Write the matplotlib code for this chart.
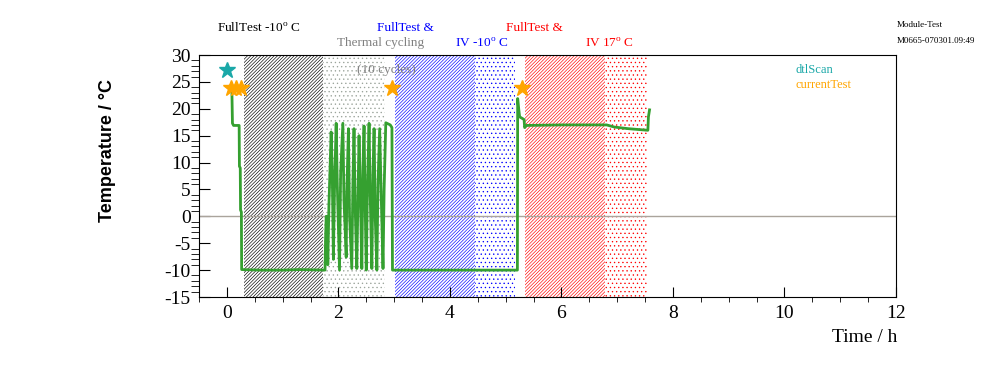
import numpy as np
import matplotlib
matplotlib.use("Agg")
import matplotlib.pyplot as plt
from matplotlib.ticker import MultipleLocator

plt.rcParams['font.family'] = ['Liberation Serif', 'DejaVu Serif']
plt.rcParams['mathtext.fontset'] = 'custom'
plt.rcParams['mathtext.rm'] = 'Liberation Serif'
plt.rcParams['axes.unicode_minus'] = False
plt.rcParams['hatch.linewidth'] = 0.45

# temperature log (hours, deg C)
time_h = [0.07, 0.09, 0.10, 0.12, 0.22, 0.225, 0.24, 0.245, 0.26, 0.265, 0.6, 1.0, 1.3, 1.76,
          1.77, 1.78, 1.80, 1.81, 1.83, 1.87, 1.89, 1.91, 1.93, 1.96, 1.98, 2.02, 2.04, 2.08,
          2.10, 2.14, 2.15, 2.18, 2.20, 2.24, 2.26, 2.28, 2.30, 2.33, 2.35, 2.37, 2.39, 2.42,
          2.44, 2.46, 2.48, 2.50, 2.52, 2.55, 2.57, 2.60, 2.62, 2.64, 2.66, 2.69, 2.71, 2.74,
          2.77, 2.80, 2.82, 2.85, 2.93, 2.96, 2.97, 3.5, 4.0, 4.5, 5.21, 5.215, 5.23, 5.25,
          5.33, 5.34, 5.37, 6.0, 6.81, 6.95, 7.2, 7.55, 7.56, 7.58]
temp_c = [23.5, 23.2, 17.3, 16.9, 16.9, 9.3, 9.0, 1.2, 0.8, -9.9, -10.0, -10.0, -9.9, -10.0,
          -4.0, 0.0, 0.0, -9.0, 2.0, 15.7, 8.0, -8.0, 5.0, 17.3, 6.0, -10.0, 8.0, 17.3,
          3.0, -7.6, 4.0, 16.3, 0.0, -9.7, 6.0, 16.3, 2.0, -9.7, 3.0, 15.0, 6.0, -9.7,
          9.0, 16.8, 2.0, -10.0, 5.0, 17.3, 4.0, -9.7, 8.0, 16.3, 0.0, -10.0, 6.0, 16.3,
          3.0, -9.7, 5.0, 17.4, 17.0, 16.5, -10.0, -10.0, -10.0, -10.0, -10.0, 21.9, 20.3, 18.5,
          18.0, 16.5, 16.9, 17.0, 17.0, 16.6, 16.3, 16.0, 18.5, 19.8]

# test markers
dtl_t = [0.0]
dtl_T = [27.3]
cur_t = [0.08, 0.17, 0.26, 2.97, 5.30]
cur_T = [23.8, 23.8, 23.8, 23.8, 23.8]

# shaded periods: start, end, colour, hatch
periods = [(0.30, 1.72, 'black', '/' * 10),
           (1.72, 2.83, '#9aa39a', '.' * 4),
           (3.01, 4.45, 'blue', '/' * 10),
           (4.45, 5.17, 'blue', '.' * 4),
           (5.35, 6.78, 'red', '/' * 10),
           (6.78, 7.53, 'red', '.' * 4)]

W, H = 996, 372
fig = plt.figure(figsize=(W / 100, H / 100), dpi=100)
ax = fig.add_axes([199 / W, 1 - 297 / H, (896 - 199) / W, (297 - 55) / H])

for a, b, c, h in periods:
    ax.axvspan(a, b, facecolor='none', edgecolor=c, hatch=h, linewidth=0)

ax.axhline(0, color='#aaa49c', lw=1)
ax.plot(time_h, temp_c, color='#35a030', lw=2)
ax.plot(dtl_t, dtl_T, '*', color='#1aa8a8', ms=12, mec='#1aa8a8')
ax.plot(cur_t, cur_T, '*', color='#ffa500', ms=12, mec='#ffa500')

ax.set_xlim(-0.5, 12)
ax.set_ylim(-15, 30)
ax.xaxis.set_major_locator(MultipleLocator(2))
ax.xaxis.set_minor_locator(MultipleLocator(0.5))
ax.yaxis.set_major_locator(MultipleLocator(5))
ax.yaxis.set_minor_locator(MultipleLocator(1))
ax.tick_params(direction='in', labelsize=14, top=False, right=False)
ax.tick_params(axis='y', which='major', length=8, pad=6)
ax.tick_params(axis='y', which='minor', length=6)
ax.tick_params(axis='x', which='major', length=7, pad=6)
ax.tick_params(axis='x', which='minor', length=3.5)

fig.text(897 / W, 1 - 338 / H, 'Time / h', ha='right', va='center', fontsize=14)
fig.text(107 / W, 1 - 150 / H, 'Temperature / \u00b0C', rotation=90, ha='center', va='center',
         fontsize=13, fontweight='bold', family=['Liberation Sans', 'DejaVu Sans'])

def ftext(x, y, s, c, size=9.5):
    fig.text(x / W, 1 - y / H, s, color=c, ha='left', va='center', fontsize=size)

ftext(217, 28, 'FullTest -10$^{\\rm o}$ C', 'black')
ftext(377, 28, 'FullTest &', 'blue')
ftext(337, 43, 'Thermal cycling', 'gray')
ftext(455, 43, 'IV -10$^{\\rm o}$ C', 'blue')
ftext(506, 28, 'FullTest &', 'red')
ftext(585, 43, 'IV 17$^{\\rm o}$ C', 'red')
ftext(357, 70, '(10 cycles)', 'gray')
ftext(897, 25, 'Module-Test', 'black', 6.5)
ftext(897, 41, 'M0665-070301.09:49', 'black', 6.5)
ftext(796, 70, 'dtlScan', '#1aa8a8', 9)
ftext(796, 85, 'currentTest', '#ffa500', 9)

fig.savefig('out.png', dpi=100)
